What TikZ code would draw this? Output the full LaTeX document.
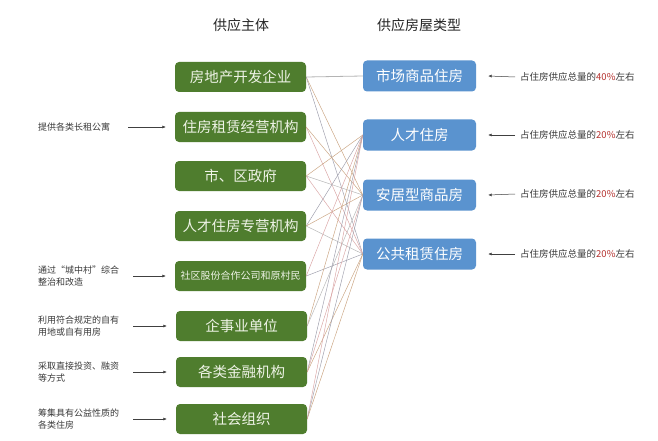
\documentclass[tikz,border=0pt]{standalone}
\usepackage{fontspec}
\setmainfont{Noto Sans CJK SC}
\usetikzlibrary{arrows.meta}
\definecolor{gbox}{HTML}{4F7D2E}
\definecolor{bbox}{HTML}{5A93CF}
\definecolor{gtext}{HTML}{EEF3E6}
\definecolor{note}{HTML}{3A3A3A}
\definecolor{pct}{HTML}{B5322F}
\definecolor{lgray}{HTML}{B4B4B4}
\definecolor{ltan}{HTML}{C9A27E}
\definecolor{lpink}{HTML}{D9A3A3}
\definecolor{lslate}{HTML}{9C9CAA}
\tikzset{
  supbox/.style={fill=gbox, rounded corners=4pt, minimum width=131pt, minimum height=30pt, inner sep=0pt, text=gtext, font=\fontsize{14.5}{16}\selectfont},
  typbox/.style={fill=bbox, rounded corners=4pt, minimum width=113pt, minimum height=31pt, inner sep=0pt, text=white, font=\fontsize{14.5}{16}\selectfont},
  header/.style={font=\fontsize{14}{16}\selectfont, text=black!85},
  lnote/.style={anchor=west, align=left, text=note, font=\fontsize{9}{12}\selectfont, inner sep=0pt},
  rnote/.style={anchor=west, text=note, font=\fontsize{9.5}{12}\selectfont, inner sep=0pt},
  notearrow/.style={draw=black!75, line width=0.5pt, -{Latex[length=3.5pt,width=3pt]}},
  conn/.style={line width=0.45pt},
}
\begin{document}
\begin{tikzpicture}[x=1pt,y=-1pt]
\useasboundingbox (0,0) rectangle (658,441);
\fill[white] (0,0) rectangle (658,441);

\node[header] (h1) at (241,25) {供应主体};
\node[header] (h2) at (419,25) {供应房屋类型};

% supply subjects
\node[supbox] (s1) at (240.5,77) {房地产开发企业};
\node[supbox] (s2) at (240.5,127) {住房租赁经营机构};
\node[supbox] (s3) at (240.5,176) {市、区政府};
\node[supbox] (s4) at (240.5,226) {人才住房专营机构};
\node[supbox, font=\fontsize{10}{12}\selectfont] (s5) at (240.5,276) {社区股份合作公司和原村民};
\node[supbox] (s6) at (241.5,326) {企事业单位};
\node[supbox] (s7) at (241.5,372) {各类金融机构};
\node[supbox] (s8) at (241.5,419) {社会组织};

% housing types
\node[typbox] (t1) at (419.5,76) {市场商品住房};
\node[typbox] (t2) at (419.5,135) {人才住房};
\node[typbox] (t3) at (419.5,195) {安居型商品房};
\node[typbox] (t4) at (419.5,254) {公共租赁住房};

% connectors
\begin{scope}[conn]
\draw[lgray, line width=0.8pt] (s1.east) -- (t1.west);
\draw[ltan] (s1.east) -- (t3.west);
\draw[lslate] (s1.east) -- (t4.west);
\draw[lpink] (s2.east) -- (t4.west);
\draw[ltan] (s2.east) -- (t3.west);
\draw[ltan] (s3.east) -- (t2.west);
\draw[lgray] (s3.east) -- (t3.west);
\draw[lpink] (s3.east) -- (t4.west);
\draw[lslate] (s4.east) -- (t2.west);
\draw[ltan] (s4.east) -- (t3.west);
\draw[lgray] (s4.east) -- (t4.west);
\draw[lslate] (s5.east) -- (t4.west);
\draw[lpink] (s5.east) -- (t2.west);
\draw[ltan] (s6.east) -- (t2.west);
\draw[lgray] (s6.east) -- (t3.west);
\draw[lslate] (s7.east) -- (t2.west);
\draw[lpink] (s7.east) -- (t3.west);
\draw[ltan] (s7.east) -- (t4.west);
\draw[lpink] (s8.east) -- (t2.west);
\draw[lslate] (s8.east) -- (t3.west);
\draw[ltan] (s8.east) -- (t4.west);
\end{scope}

% left notes
\node[lnote] (n2) at (38,127) {提供各类长租公寓};
\node[lnote] (n5) at (38,276) {通过“城中村”综合\\整治和改造};
\node[lnote] (n6) at (38,326) {利用符合规定的自有\\用地或自有用房};
\node[lnote] (n7) at (38,372) {采取直接投资、融资\\等方式};
\node[lnote] (n8) at (38,419) {筹集具有公益性质的\\各类住房};
\coordinate (a2) at (128,127);
\coordinate (a5) at (133,276);
\coordinate (a6) at (133,326);
\coordinate (a7) at (133,372);
\coordinate (a8) at (133,419);
\draw[notearrow] (a2) -- ([xshift=-9pt]s2.west);
\draw[notearrow] (a5) -- ([xshift=-9pt]s5.west);
\draw[notearrow] (a6) -- ([xshift=-9pt]s6.west);
\draw[notearrow] (a7) -- ([xshift=-9pt]s7.west);
\draw[notearrow] (a8) -- ([xshift=-9pt]s8.west);

% right notes
\node[rnote] (r1) at (520,77) {占住房供应总量的\textcolor{pct}{40\%}左右};
\node[rnote] (r2) at (520,135) {占住房供应总量的\textcolor{pct}{20\%}左右};
\node[rnote] (r3) at (520,194) {占住房供应总量的\textcolor{pct}{20\%}左右};
\node[rnote] (r4) at (520,254) {占住房供应总量的\textcolor{pct}{20\%}左右};
\draw[notearrow] ([xshift=-5pt]r1.west) -- ([xshift=12pt]t1.east);
\draw[notearrow] ([xshift=-5pt]r2.west) -- ([xshift=12pt]t2.east);
\draw[notearrow] ([xshift=-5pt]r3.west) -- ([xshift=12pt]t3.east);
\draw[notearrow] ([xshift=-5pt]r4.west) -- ([xshift=12pt]t4.east);
\end{tikzpicture}
\end{document}
